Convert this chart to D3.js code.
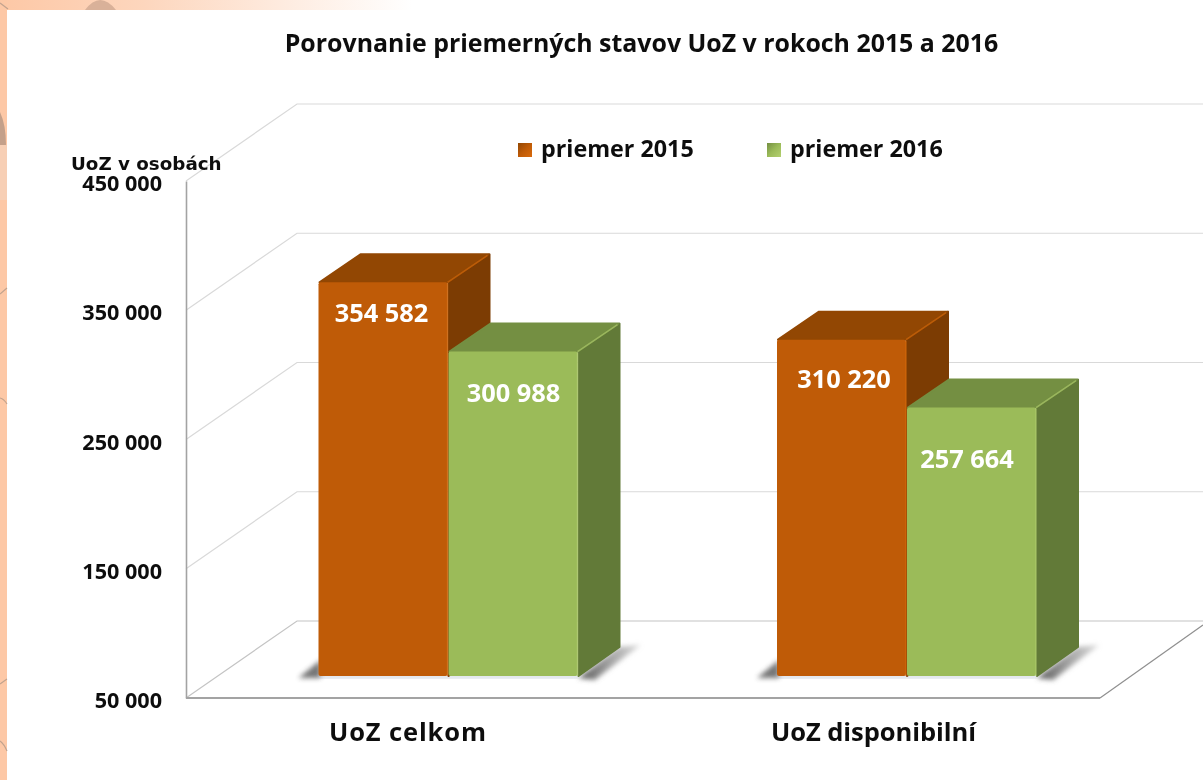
<!DOCTYPE html>
<html><head><meta charset="utf-8">
<script src="https://cdn.jsdelivr.net/npm/d3@7"></script>
<style>
html,body{margin:0;padding:0;background:#fff;overflow:hidden}
svg{display:block}
text{font-family:"Open Sans",sans-serif;font-weight:700;fill:#111;filter:url(#tsoft)}
</style></head><body>
<div id="chart"></div>
<script>
const titleText = "Porovnanie priemerných stavov UoZ v rokoch 2015 a 2016";
const unitLabel = "UoZ v osobách";
const categories = ["UoZ celkom", "UoZ disponibilní"];
const seriesNames = ["priemer 2015", "priemer 2016"];
const values2015 = [354582, 310220];
const values2016 = [300988, 257664];
const tickValues = [50000, 150000, 250000, 350000, 450000];
const seriesColors = [
  {front:"#bf5b07", top:"#924703", side:"#7c3c03", edge:"#d96a0c"},
  {front:"#9bbb59", top:"#748f42", side:"#627a38", edge:"#b4d070"}
];

const W = 1203, H = 780;
const fmt = v => d3.format(",")(v).replace(/,/g, " ");
const svg = d3.select("#chart").append("svg").attr("width", W).attr("height", H);
const defs = svg.append("defs");
const blur = defs.append("filter").attr("id","soft").attr("x","-30%").attr("y","-30%").attr("width","160%").attr("height","160%");
blur.append("feGaussianBlur").attr("stdDeviation",2.6);
const textBlur = defs.append("filter").attr("id","tsoft").attr("x","-5%").attr("y","-10%").attr("width","110%").attr("height","120%");
textBlur.append("feGaussianBlur").attr("stdDeviation",0.4);

// page background
const bg = defs.append("linearGradient").attr("id","peach").attr("x1",0).attr("x2",1).attr("y1",0).attr("y2",0);
bg.append("stop").attr("offset",0).attr("stop-color","#fdc8a6");
bg.append("stop").attr("offset",0.35).attr("stop-color","#fdd6bd");
bg.append("stop").attr("offset",1).attr("stop-color","#ffffff");
const sh = defs.append("linearGradient").attr("id","shadowFade").attr("x1",0).attr("x2",1).attr("y1",0).attr("y2",0);
sh.append("stop").attr("offset",0).attr("stop-color","#555");
sh.append("stop").attr("offset",1).attr("stop-color","#b0b0b0").attr("stop-opacity",.5);
seriesColors.forEach((c,i)=>{
  const g = defs.append("linearGradient").attr("id","leg"+i).attr("x1",0).attr("x2",1).attr("y1",0).attr("y2",1);
  g.append("stop").attr("offset",0).attr("stop-color",c.top);
  g.append("stop").attr("offset",.5).attr("stop-color",c.front);
  g.append("stop").attr("offset",1).attr("stop-color",c.edge);
});
svg.append("rect").attr("width",W).attr("height",H).attr("fill","#fff");
svg.append("rect").attr("width",412).attr("height",10).attr("fill","url(#peach)");
svg.append("rect").attr("width",7).attr("height",H).attr("fill","#fdc8a6");
svg.append("rect").attr("y",145).attr("width",7).attr("height",55).attr("fill","#f7cfb5");
svg.append("path").attr("d","M85 10 Q100 -10 116 10 Z").attr("fill","#d9b199");
svg.append("path").attr("d","M0 112 Q6 125 6 145 L0 145 Z").attr("fill","#c4a08a");
svg.append("path").attr("d","M0 294 L7 288 M0 398 Q4 399 7 404 M0 684 L7 679 M0 741 Q4 744 7 751 M0 3 L8 9").attr("stroke","#c2a38e").attr("stroke-width",1.2).attr("fill","none");

// scales: front plane of the box
const y = d3.scaleLinear().domain([50000,450000]).range([698,181]);
const depth = {dx:111, dy:-77};         // wall offset
const barShift = {dy:-22};              // bars stand inside the box
const barDepth = {dx:42, dy:-29};
const x0 = d3.scaleBand().domain(categories).range([219.25,1136.25]);
const x1 = d3.scaleBand().domain(seriesNames).range([0,260]);
const groupOff = (x0.bandwidth()-260)/2;

// walls and gridlines
const grid = svg.append("g");
const xL = 186, xRight = 1100;
tickValues.forEach(t=>{
  const yf = y(t), yb = yf+depth.dy;
  grid.append("path")
    .attr("d",`M${xL} ${yf} L${xL+depth.dx} ${yb} L${W} ${yb}`)
    .attr("fill","none")
    .attr("stroke", t===50000 ? "#c4c4c4" : "#d9d9d9").attr("stroke-width",1.2);
});
const axisY = d3.axisLeft(y).tickValues(tickValues).tickSize(0).tickFormat(fmt);
const gy = svg.append("g").attr("transform",`translate(${xL},0)`).call(axisY);
gy.select(".domain").attr("stroke","#a3a3a3").attr("stroke-width",1.6);
gy.selectAll("text").attr("x",-24).attr("dy","0.35em").attr("y",2).style("font-size","21.6px").style("font-weight",700);
// floor
svg.append("line").attr("x1",xL).attr("x2",xRight).attr("y1",698).attr("y2",698).attr("stroke","#a3a3a3").attr("stroke-width",1.8);
svg.append("line").attr("x1",xRight).attr("y1",698).attr("x2",1203).attr("y2",625).attr("stroke","#8f8f8f").attr("stroke-width",1.2);

// bars
const series = [values2015, values2016];
categories.forEach((c,ci)=>{
  const g = svg.append("g");
  const bw = x1.bandwidth();
  const base = y(50000)+barShift.dy;
  const xs = x0(c)+groupOff;
  const rr = xs+260;
  g.append("path").attr("filter","url(#soft)").attr("fill","url(#shadowFade)")
    .attr("d",`M${rr} ${base+2} L${rr+barDepth.dx-2} ${base+barDepth.dy} L${rr+barDepth.dx+20} ${base+barDepth.dy-2} L${rr+16} ${base+4} Z`);
  g.append("path").attr("filter","url(#soft)").attr("fill","#666").attr("opacity",.9)
    .attr("d",`M${xs+2} ${base-16} L${xs-20} ${base+2} L${xs+2} ${base+2} Z`);
  g.append("path").attr("filter","url(#soft)").attr("fill","#9aa8c0").attr("opacity",.6)
    .attr("d",`M${xs} ${base-1} H${xs+260} V${base+2} H${xs} Z`);
  seriesNames.forEach((s,si)=>{
    const v = series[si][ci], col = seriesColors[si];
    const bx = xs + x1(s), top = y(v)+barShift.dy;
    const r = bx+bw;
    const b = g.append("g").attr("stroke-linejoin","round");
    b.append("path").attr("fill",col.side).attr("stroke",col.side).attr("stroke-width",2)
      .attr("d",`M${r} ${top} L${r+barDepth.dx-1} ${top+barDepth.dy+1} V${base+barDepth.dy} L${r} ${base} Z`);
    b.append("path").attr("fill",col.top).attr("stroke",col.top).attr("stroke-width",2)
      .attr("d",`M${bx+1} ${top} L${bx+barDepth.dx} ${top+barDepth.dy+1} H${r+barDepth.dx-2} L${r-1} ${top} Z`);
    b.append("rect").attr("x",bx).attr("y",top).attr("width",bw-1).attr("height",base-top).attr("rx",2).attr("fill",col.front);
    b.append("path").attr("fill","none").attr("stroke",col.edge).attr("stroke-width",1.5).attr("opacity",.6)
      .attr("d",`M${r-1} ${top+1} V${base} M${r-1} ${top} L${r+barDepth.dx-3} ${top+barDepth.dy+2}`);
  });
});
// value labels
const labelDrop = [[40,50],[48,60]];
const labelNudge = [[-2,0],[2,-5]];
categories.forEach((c,ci)=>{
  seriesNames.forEach((s,si)=>{
    const v = series[si][ci];
    const bx = x0(c)+groupOff+x1(s);
    svg.append("text").text(fmt(v))
      .attr("x",bx+x1.bandwidth()/2+labelNudge[ci][si])
      .attr("y",y(v)-22+labelDrop[ci][si])
      .attr("text-anchor","middle")
      .style("font-size","25.4px").style("fill","#fff");
  });
});

// category labels
const categoryLabelX = [407.5, 873.5], categoryLabelLen = [157, 205];
categories.forEach((c,i)=>{
  svg.append("text").text(c).attr("x",categoryLabelX[i]).attr("y",741)
    .attr("text-anchor","middle").attr("textLength",categoryLabelLen[i]).attr("lengthAdjust","spacing").style("font-size","25.5px");
});
// title and unit
svg.append("text").text(titleText).attr("x",641.5).attr("y",52).attr("text-anchor","middle").style("font-size","24.9px");
svg.append("text").text(unitLabel).attr("x",71).attr("y",170).style("font-family","'DejaVu Sans'").style("font-size","18.3px");
// legend
const legendX = [518,767];
seriesNames.forEach((s,i)=>{
  svg.append("rect").attr("x",legendX[i]).attr("y",143).attr("width",14).attr("height",14).attr("fill",`url(#leg${i})`);
  svg.append("text").text(s).attr("x",legendX[i]+23).attr("y",157).style("font-size","23.3px");
});
</script>
</body></html>
